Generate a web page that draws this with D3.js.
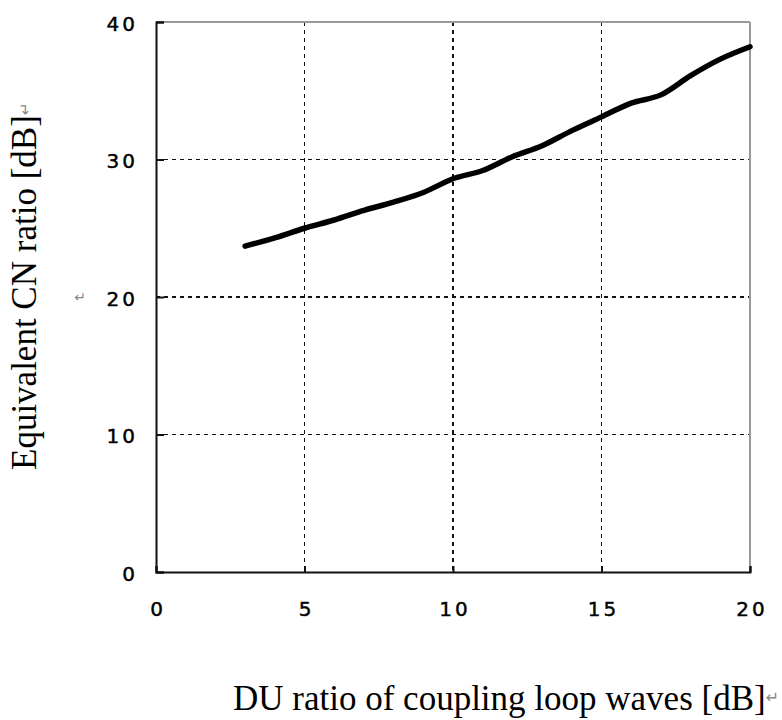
<!DOCTYPE html>
<html>
<head>
<meta charset="utf-8">
<script src="https://cdn.jsdelivr.net/npm/d3@7"></script>
<style>
  html, body { margin: 0; padding: 0; background: #fff; }
  svg { display: block; }
</style>
</head>
<body>
<svg id="chart" width="782" height="720"></svg>
<script>
// DU ratio of coupling loop waves [dB]
const duRatio = [3, 4, 5, 6, 7, 8, 9, 10, 11, 12, 13, 14, 15, 16, 17, 18, 19, 20];
// Equivalent CN ratio [dB]
const cnRatio = [23.7, 24.3, 25.0, 25.6, 26.3, 26.9, 27.6, 28.6, 29.2, 30.2, 31.0, 32.1, 33.1, 34.1, 34.7, 36.1, 37.3, 38.2];
const xTicks = [0, 5, 10, 15, 20];
const yTicks = [0, 10, 20, 30, 40];

const svg = d3.select("#chart");
const plot = { left: 156, right: 750, top: 22, bottom: 572 };

const x = d3.scaleLinear().domain([0, 20]).range([plot.left, plot.right]);
const y = d3.scaleLinear().domain([0, 40]).range([plot.bottom, plot.top]);

// dashed grid
const grid = svg.append("g");
grid.selectAll("line.gx").data(xTicks.filter(d => d > 0 && d < 20)).join("line")
  .attr("x1", d => x(d)).attr("x2", d => x(d))
  .attr("y1", plot.top).attr("y2", plot.bottom)
  .attr("stroke", "#111").attr("stroke-width", 1.6).attr("stroke-dasharray", "4,4")
  .attr("shape-rendering", "crispEdges");
grid.selectAll("line.gy").data(yTicks.filter(d => d > 0 && d < 40)).join("line")
  .attr("x1", plot.left).attr("x2", plot.right)
  .attr("y1", d => y(d)).attr("y2", d => y(d))
  .attr("stroke", "#111").attr("stroke-width", 1.6).attr("stroke-dasharray", "4,4")
  .attr("shape-rendering", "crispEdges");

// plot-area frame: grey top/right, black axes left/bottom
svg.append("line").attr("x1", plot.left).attr("x2", plot.right).attr("y1", plot.top).attr("y2", plot.top)
  .attr("stroke", "#999").attr("stroke-width", 1.5).attr("shape-rendering", "crispEdges");
svg.append("line").attr("x1", plot.right).attr("x2", plot.right).attr("y1", plot.top).attr("y2", plot.bottom)
  .attr("stroke", "#999").attr("stroke-width", 1.5).attr("shape-rendering", "crispEdges");

const tickFont = "'DejaVu Sans', Verdana, sans-serif";
const yAxis = d3.axisLeft(y).tickValues(yTicks).tickSize(-8).tickPadding(21).tickFormat(d3.format("d"));
const xAxis = d3.axisBottom(x).tickValues(xTicks).tickSize(-6).tickPadding(30).tickFormat(d3.format("d"));

const gy = svg.append("g").attr("transform", `translate(${plot.left},0)`).call(yAxis);
const gx = svg.append("g").attr("transform", `translate(0,${plot.bottom})`).call(xAxis);
[gx, gy].forEach(g => {
  g.attr("font-size", null).attr("font-family", null);
  g.select(".domain").attr("stroke", "#111").attr("stroke-width", 2);
  g.selectAll(".tick line").attr("stroke", "#111").attr("stroke-width", 2);
  g.selectAll(".tick text")
    .attr("fill", "#000")
    .attr("stroke", "#000").attr("stroke-width", 0.45)
    .style("font-family", tickFont)
    .style("font-size", "20px")
    .style("letter-spacing", "3px");
});
gy.selectAll(".tick text").attr("dy", "0.4em").attr("dx", "3");
gx.selectAll(".tick text").attr("dx", "1.5");

// series line
const line = d3.line().x((d, i) => x(duRatio[i])).y(d => y(d)).curve(d3.curveMonotoneX);
svg.append("path").datum(cnRatio)
  .attr("d", line)
  .attr("fill", "none").attr("stroke", "#000").attr("stroke-width", 5.5)
  .attr("stroke-linecap", "round").attr("stroke-linejoin", "round");

// axis titles
const serif = "'Liberation Serif', 'Times New Roman', serif";
const yTitle = svg.append("text")
  .attr("transform", "translate(36,470) rotate(-90)")
  .style("font-family", serif).style("font-size", "35px").attr("fill", "#000");
yTitle.append("tspan").text("Equivalent CN ratio [dB]");
yTitle.append("tspan").text("\u21B5").attr("fill", "#888")
  .style("font-family", "'DejaVu Sans', sans-serif").style("font-size", "15px").attr("dy", "-6");

svg.append("text").attr("x", 80).attr("y", 302).attr("text-anchor", "middle")
  .style("font-family", "'DejaVu Sans', sans-serif").style("font-size", "14px").attr("fill", "#888")
  .text("\u21B5");

const xTitle = svg.append("text")
  .attr("x", 233).attr("y", 710)
  .style("font-family", serif).style("font-size", "35px").attr("fill", "#000");
xTitle.append("tspan").text("DU ratio of coupling loop waves [dB]");
xTitle.append("tspan").text("\u21B5").attr("fill", "#888")
  .style("font-family", "'DejaVu Sans', sans-serif").style("font-size", "16px").attr("dy", "-7");
</script>
</body>
</html>
